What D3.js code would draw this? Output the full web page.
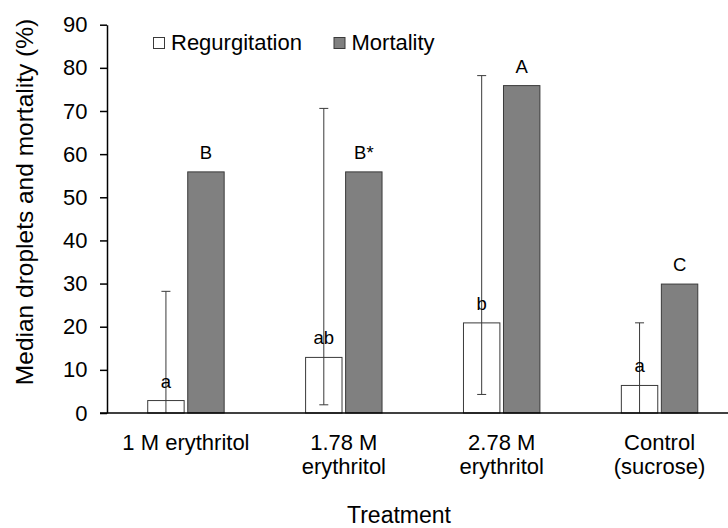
<!DOCTYPE html>
<html>
<head>
<meta charset="utf-8">
<script src="https://cdn.jsdelivr.net/npm/d3@7"></script>
<style>
  html, body { margin: 0; padding: 0; background: #fff; }
  svg { display: block; }
  text { font-family: "Liberation Sans", Arial, sans-serif; fill: #000; }
</style>
</head>
<body>
<svg id="chart" width="728" height="528"></svg>
<script>
// ---- data ----
const categories = ["1 M erythritol", "1.78 M erythritol", "2.78 M erythritol", "Control (sucrose)"];
const categoryLines = [["1 M erythritol"], ["1.78 M", "erythritol"], ["2.78 M", "erythritol"], ["Control", "(sucrose)"]];
const seriesNames = ["Regurgitation", "Mortality"];
const regurgitation = [3, 13, 21, 6.5];
const mortality = [56, 56, 76, 30];
const errLow = [0, 1.9, 4.3, 0];
const errHigh = [28.2, 70.6, 78.2, 20.9];
const regLabels = ["a", "ab", "b", "a"];
const morLabels = ["B", "B*", "A", "C"];
const yTicks = [0, 10, 20, 30, 40, 50, 60, 70, 80, 90];

// ---- layout ----
const svg = d3.select("#chart");
const plotLeft = 107, plotRight = 738.5, plotTop = 24.7, plotBottom = 413;
const seriesFill = { Regurgitation: "#ffffff", Mortality: "#808080" };
const edge = "#3a3a3a";

const y = d3.scaleLinear().domain([0, 90]).range([plotBottom, plotTop]);
const x0 = d3.scaleBand().domain(categories).range([plotLeft, plotRight]).paddingInner(0).paddingOuter(0);
const x1 = d3.scaleBand().domain(seriesNames).range([0, x0.bandwidth()]).paddingInner(0.065).paddingOuter(1.005);

const rows = categories.map((c, i) => ({
  cat: c, i,
  bars: [
    { s: "Regurgitation", v: regurgitation[i], label: regLabels[i] },
    { s: "Mortality", v: mortality[i], label: morLabels[i] }
  ]
}));

// bars
const g = svg.append("g");
const grp = g.selectAll("g.grp").data(rows).join("g")
  .attr("transform", d => `translate(${x0(d.cat)},0)`);

grp.selectAll("rect").data(d => d.bars).join("rect")
  .attr("x", d => x1(d.s) + 0.5)
  .attr("y", d => y(d.v) + 0.5)
  .attr("width", x1.bandwidth() - 1)
  .attr("height", d => y(0) - y(d.v) - 0.5)
  .attr("fill", d => seriesFill[d.s])
  .attr("stroke", edge)
  .attr("stroke-width", 1);

// error bars on regurgitation
const cap = 4.5;
grp.each(function(d) {
  const cx = x1("Regurgitation") + x1.bandwidth() / 2;
  const sel = d3.select(this);
  const lo = y(errLow[d.i]), hi = y(errHigh[d.i]);
  sel.append("line").attr("x1", cx).attr("x2", cx).attr("y1", lo).attr("y2", hi)
    .attr("stroke", edge).attr("stroke-width", 1);
  sel.append("line").attr("x1", cx - cap).attr("x2", cx + cap).attr("y1", hi).attr("y2", hi)
    .attr("stroke", edge).attr("stroke-width", 1);
  if (errLow[d.i] > 0) {
    sel.append("line").attr("x1", cx - cap).attr("x2", cx + cap).attr("y1", lo).attr("y2", lo)
      .attr("stroke", edge).attr("stroke-width", 1);
  }
});

// letter labels
grp.selectAll("text.lbl").data(d => d.bars).join("text")
  .attr("class", "lbl")
  .attr("x", d => x1(d.s) + x1.bandwidth() / 2)
  .attr("y", d => y(d.v) - 12.5)
  .attr("text-anchor", "middle")
  .attr("font-size", 18.5)
  .text(d => d.label);

// y axis
const yAxis = d3.axisLeft(y).tickValues(yTicks).tickSize(7).tickPadding(12.5).tickSizeOuter(0);
const ya = svg.append("g").attr("transform", `translate(${plotLeft},0)`).call(yAxis);
ya.select(".domain").attr("stroke", "#000").attr("stroke-width", 1.5);
ya.selectAll(".tick line").attr("stroke", "#000").attr("stroke-width", 1.5);
ya.selectAll(".tick text").attr("font-size", 22).attr("font-family", "Liberation Sans, Arial, sans-serif").attr("fill", "#000");

// x axis
const xAxis = d3.axisBottom(x0).tickSize(0).tickSizeOuter(0).tickFormat("");
const xa = svg.append("g").attr("transform", `translate(0,${plotBottom})`).call(xAxis);
xa.select(".domain").remove();
xa.append("line").attr("x1", 100).attr("x2", 728).attr("y1", 0).attr("y2", 0)
  .attr("stroke", "#000").attr("stroke-width", 1.5);
xa.selectAll(".tick").each(function(c, i) {
  const t = d3.select(this).append("text")
    .attr("text-anchor", "middle").attr("font-size", 22).attr("y", 36.5)
    .attr("fill", "#000").attr("font-family", "Liberation Sans, Arial, sans-serif");
  categoryLines[i].forEach((ln, k) => {
    t.append("tspan").attr("x", 0).attr("dy", k === 0 ? 0 : 24.5).text(ln);
  });
});

// axis titles
svg.append("text").attr("x", 399).attr("y", 523).attr("text-anchor", "middle")
  .attr("font-size", 23).text("Treatment");
svg.append("text").attr("transform", "translate(32.5,202) rotate(-90)")
  .attr("text-anchor", "middle").attr("font-size", 24.5)
  .text("Median droplets and mortality (%)");

// legend
const legend = [
  { s: "Regurgitation", x: 153 },
  { s: "Mortality", x: 333.5 }
];
const lg = svg.append("g").selectAll("g").data(legend).join("g")
  .attr("transform", d => `translate(${d.x},37)`);
lg.append("rect").attr("x", 0.5).attr("y", 0.5).attr("width", 11).attr("height", 11)
  .attr("fill", d => seriesFill[d.s]).attr("stroke", edge).attr("stroke-width", 1);
lg.append("text").attr("x", 18).attr("y", 12.5).attr("font-size", 22).text(d => d.s);
</script>
</body>
</html>
